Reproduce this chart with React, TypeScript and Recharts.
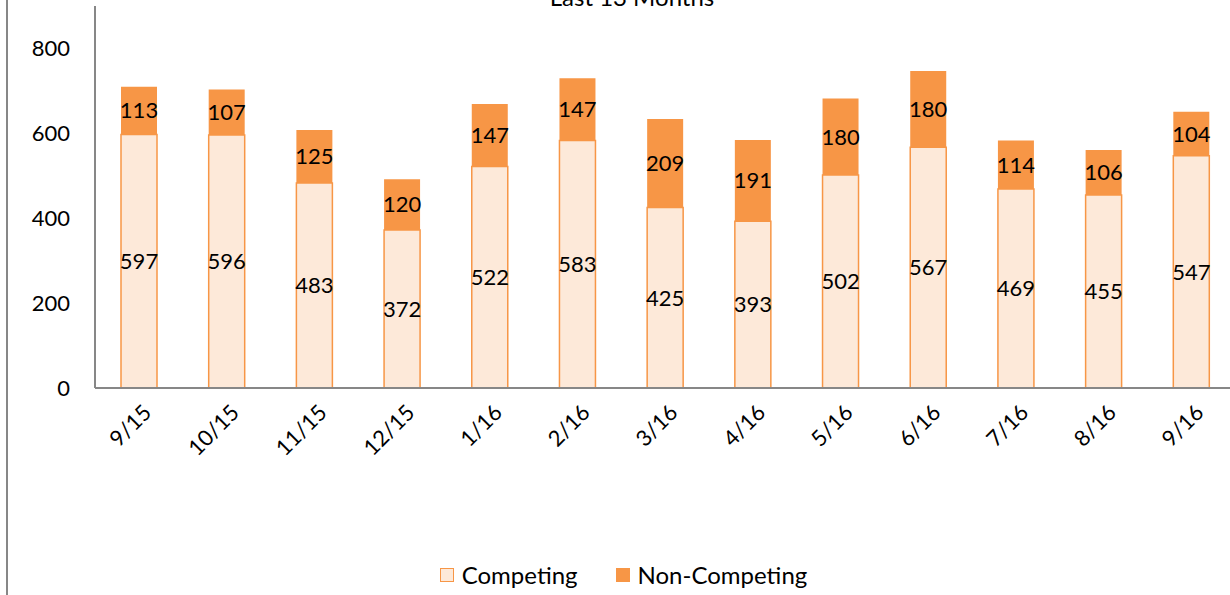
import React from 'react';
import { Bar, BarChart, LabelList, Legend, XAxis, YAxis } from 'recharts';

const months = ['9/15', '10/15', '11/15', '12/15', '1/16', '2/16', '3/16', '4/16', '5/16', '6/16', '7/16', '8/16', '9/16'];
const competing = [597, 596, 483, 372, 522, 583, 425, 393, 502, 567, 469, 455, 547];
const nonCompeting = [113, 107, 125, 120, 147, 147, 209, 191, 180, 180, 114, 106, 104];
const yTicks = [0, 200, 400, 600, 800];

const data = months.map((m, i) => ({ month: m, competing: competing[i], nonCompeting: nonCompeting[i] }));

const FONT = 'Lato, "Open Sans", sans-serif';
const ORANGE = '#F79646';
const LIGHT = '#FDE9D9';
const AXIS = '#878787';

const XTick = (props: any) => {
  const { x, y, payload } = props;
  const ax = x + 14;
  const ay = y + 18;
  return (
    <text x={ax} y={ay} transform={`rotate(-45, ${ax}, ${ay})`} textAnchor="end" fontSize={22} fontFamily={FONT} fill="#000">
      {payload.value}
    </text>
  );
};

const legendItems = [
  { label: 'Competing', fill: LIGHT, stroke: ORANGE },
  { label: 'Non-Competing', fill: ORANGE, stroke: ORANGE },
];

const LegendContent = () => (
  <div style={{ display: 'flex', justifyContent: 'center', gap: 38, fontFamily: FONT, fontSize: 24, color: '#000', paddingLeft: 12 }}>
    {legendItems.map((it) => (
      <div key={it.label} style={{ display: 'flex', alignItems: 'center', gap: 8 }}>
        <span style={{ width: 12, height: 12, background: it.fill, border: `1.5px solid ${it.stroke}`, display: 'inline-block' }} />
        <span>{it.label}</span>
      </div>
    ))}
  </div>
);

export default function App() {
  return (
    <div style={{ position: 'absolute', left: 0, top: 0, width: 1230, height: 595, overflow: 'hidden', background: '#fff' }}>
      <div style={{ position: 'absolute', left: 6, top: 0, width: 2, height: 595, background: AXIS }} />
      <div style={{ position: 'absolute', left: 0, top: 0 }}>
        <BarChart width={1240} height={595} data={data} margin={{ top: 6, right: 5, left: 0, bottom: 0 }} barSize={36}>
          <text x={632} y={6} textAnchor="middle" fontSize={24} fontFamily={FONT} fill="#000">
            Last 13 Months
          </text>
          <XAxis
            dataKey="month"
            interval={0}
            height={172}
            tick={<XTick />}
            tickLine={false}
            axisLine={{ stroke: AXIS, strokeWidth: 2 }}
          />
          <YAxis
            width={95}
            domain={[0, 900]}
            ticks={yTicks}
            tickLine={false}
            tickSize={0}
            tickMargin={25}
            axisLine={{ stroke: AXIS, strokeWidth: 2 }}
            tick={{ fontSize: 22, fontFamily: FONT, fill: '#000' }}
          />
          <Legend verticalAlign="bottom" height={35} content={<LegendContent />} />
          <Bar dataKey="competing" stackId="a" fill={LIGHT} stroke={ORANGE} strokeWidth={1.5} isAnimationActive={false}>
            <LabelList dataKey="competing" position="center" fontSize={22} fontFamily={FONT} fill="#000" />
          </Bar>
          <Bar dataKey="nonCompeting" stackId="a" fill={ORANGE} isAnimationActive={false}>
            <LabelList dataKey="nonCompeting" position="center" fontSize={22} fontFamily={FONT} fill="#000" />
          </Bar>
        </BarChart>
      </div>
    </div>
  );
}
